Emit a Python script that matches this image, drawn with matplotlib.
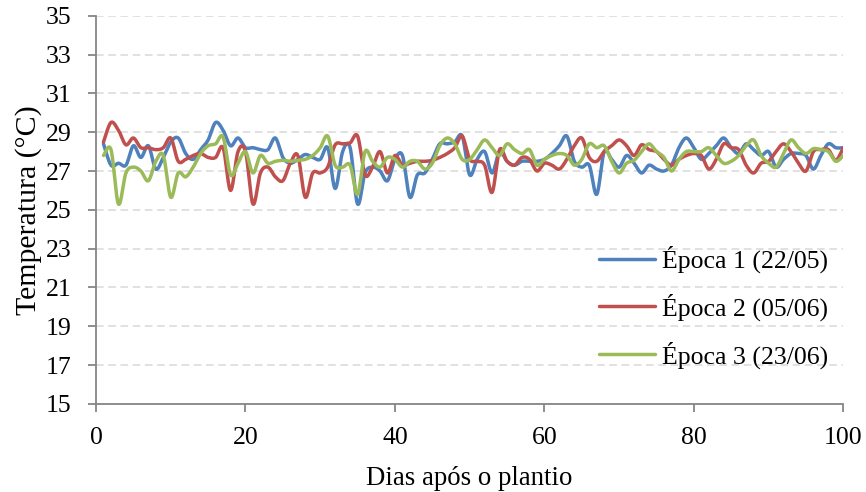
import numpy as np
import matplotlib
matplotlib.use("Agg")
import matplotlib.pyplot as plt

# Daily mean air temperature (°C) for three sowing dates, days 1-100
days = list(range(1, 101))

epoca1 = [28.4, 27.3, 27.4, 27.3, 28.3, 27.7, 28.3, 27.1, 27.7, 28.5,
          28.7, 27.9, 27.6, 28.1, 28.6, 29.5, 29.1, 28.3, 28.7, 28.2,
          28.2, 28.1, 28.1, 28.7, 27.7, 27.4, 27.6, 27.85, 27.7, 27.6,
          28.2, 26.1, 28.0, 28.2, 25.3, 26.9, 27.2, 27.0, 26.5, 27.6,
          27.8, 25.65, 26.8, 26.9, 27.6, 28.4, 28.4, 28.5, 28.8, 26.8,
          27.6, 28.0, 26.9, 28.0, 27.5, 27.3, 27.5, 27.5, 27.5, 27.6,
          27.9, 28.3, 28.8, 27.5, 27.2, 27.3, 25.8, 28.0, 27.6, 27.2,
          27.8, 27.4, 26.9, 27.3, 27.1, 27.0, 27.3, 28.2, 28.7, 28.2,
          27.6, 27.9, 28.3, 28.7, 28.2, 27.9, 28.4, 28.1, 27.8, 28.0,
          27.2, 27.6, 27.9, 27.9, 27.8, 27.1, 27.8, 28.4, 28.2, 28.2]

epoca2 = [28.5, 29.5, 29.1, 28.35, 28.7, 28.2, 28.2, 28.1, 28.2, 28.7,
          27.5, 27.6, 27.8, 27.9, 27.7, 27.7, 28.2, 26.0, 28.0, 28.0,
          25.3, 26.9, 27.2, 26.7, 26.5, 27.4, 27.8, 25.65, 26.9, 26.9,
          27.2, 28.35, 28.4, 28.45, 28.8, 26.8, 27.2, 28.0, 26.9, 27.8,
          27.3, 27.4, 27.5, 27.5, 27.55, 27.7, 27.9, 28.2, 28.8, 27.6,
          27.5, 27.3, 25.9, 28.1, 27.5, 27.3, 27.7, 27.6, 27.0, 27.4,
          27.3, 27.1, 27.6, 28.3, 28.7, 27.7, 27.5, 28.0, 28.3, 28.6,
          28.3, 27.8, 28.35, 28.1, 28.0, 27.6, 27.3, 27.6, 27.8, 27.9,
          27.8, 27.1, 27.6, 28.4, 28.2, 28.1, 27.3, 26.9, 27.4, 27.5,
          28.0, 28.4, 28.0, 27.4, 27.0, 28.0, 28.1, 28.1, 27.55, 28.2]

epoca3 = [27.8, 28.1, 25.3, 26.9, 27.2, 27.0, 26.5, 27.5, 27.8, 25.65,
          26.9, 26.7, 27.2, 27.9, 28.3, 28.4, 28.75, 26.8, 27.4, 28.0,
          26.9, 27.8, 27.4, 27.5, 27.55, 27.5, 27.55, 27.6, 27.8, 28.2,
          28.8, 27.3, 27.2, 27.3, 25.8, 28.0, 27.5, 27.2, 27.7, 27.6,
          27.2, 27.5, 27.5, 27.1, 27.4, 28.3, 28.7, 28.4, 27.6, 27.6,
          28.1, 28.6, 28.2, 27.8, 28.4, 28.1, 27.9, 28.1, 27.3, 27.6,
          27.8, 27.9, 27.8, 27.3, 27.6, 28.4, 28.2, 28.3, 27.5, 26.9,
          27.4, 27.55, 28.0, 28.4, 28.0, 27.7, 27.0, 27.6, 28.0, 28.0,
          28.0, 28.2, 27.8, 27.4, 27.5, 27.8, 28.3, 28.6, 27.8, 27.4,
          27.2, 27.9, 28.6, 28.2, 27.9, 28.15, 28.1, 28.0, 27.5, 27.8]

labels = ["Época 1 (22/05)", "Época 2 (05/06)", "Época 3 (23/06)"]
colors = ["#4F81BD", "#C0504D", "#9BBB59"]


def smooth(x, y, n=16):
    """Uniform Catmull-Rom curve through every point (spreadsheet-style smoothing)."""
    x = np.asarray(x, float)
    y = np.asarray(y, float)
    px = np.concatenate([[x[0]], x, [x[-1]]])
    py = np.concatenate([[y[0]], y, [y[-1]]])
    t = np.linspace(0, 1, n, endpoint=False)[:, None]
    xs, ys = [], []
    for i in range(1, len(px) - 2):
        for arr, out in ((px, xs), (py, ys)):
            p0, p1, p2, p3 = arr[i - 1], arr[i], arr[i + 1], arr[i + 2]
            c1 = p1 + (p2 - p0) / 6.0
            c2 = p2 - (p3 - p1) / 6.0
            b = ((1 - t) ** 3 * p1 + 3 * (1 - t) ** 2 * t * c1
                 + 3 * (1 - t) * t ** 2 * c2 + t ** 3 * p2)
            out.append(b.ravel())
    xs.append([x[-1]])
    ys.append([y[-1]])
    return np.concatenate(xs), np.concatenate(ys)


plt.rcParams["font.family"] = ["Liberation Serif", "DejaVu Serif"]
plt.rcParams["font.size"] = 18.5

fig = plt.figure(figsize=(8.66, 4.92), dpi=100)
ax = fig.add_axes([0.1109, 0.1789, 0.8629, 0.7892])

for series, lab, col in zip([epoca1, epoca2, epoca3], labels, colors):
    sx, sy = smooth(days, series)
    ax.plot(sx, sy, color=col, lw=2.5, label=lab, solid_capstyle="round", zorder=3)

ax.set_xlim(0, 100)
ax.set_ylim(15, 35)
ax.set_xticks(range(0, 101, 20))
ax.set_yticks(range(15, 36, 2))

ax.yaxis.grid(True, color="#D9D9D9", linestyle=(0, (5, 3)), lw=1.1)
ax.set_axisbelow(True)

for side in ("top", "right"):
    ax.spines[side].set_visible(False)
for side in ("left", "bottom"):
    ax.spines[side].set_color("#868686")
    ax.spines[side].set_linewidth(1.3)

ax.tick_params(axis="both", direction="out", length=6, width=1.3,
               color="#868686", labelcolor="black", labelsize=18.5)
ax.tick_params(axis="x", pad=10.5)
ax.tick_params(axis="y", pad=11.5)

ax.set_xlabel("Dias após o plantio", fontsize=19.3, labelpad=12)
ax.set_ylabel("Temperatura (°C)", fontsize=21.5, labelpad=3)

leg = ax.legend(loc="lower right", bbox_to_anchor=(1.0, 0.051), frameon=False,
                fontsize=18.5, handlelength=2.2, handletextpad=0.25,
                labelspacing=0.795, borderaxespad=0.2)

fig.savefig("out.png", dpi=100)
